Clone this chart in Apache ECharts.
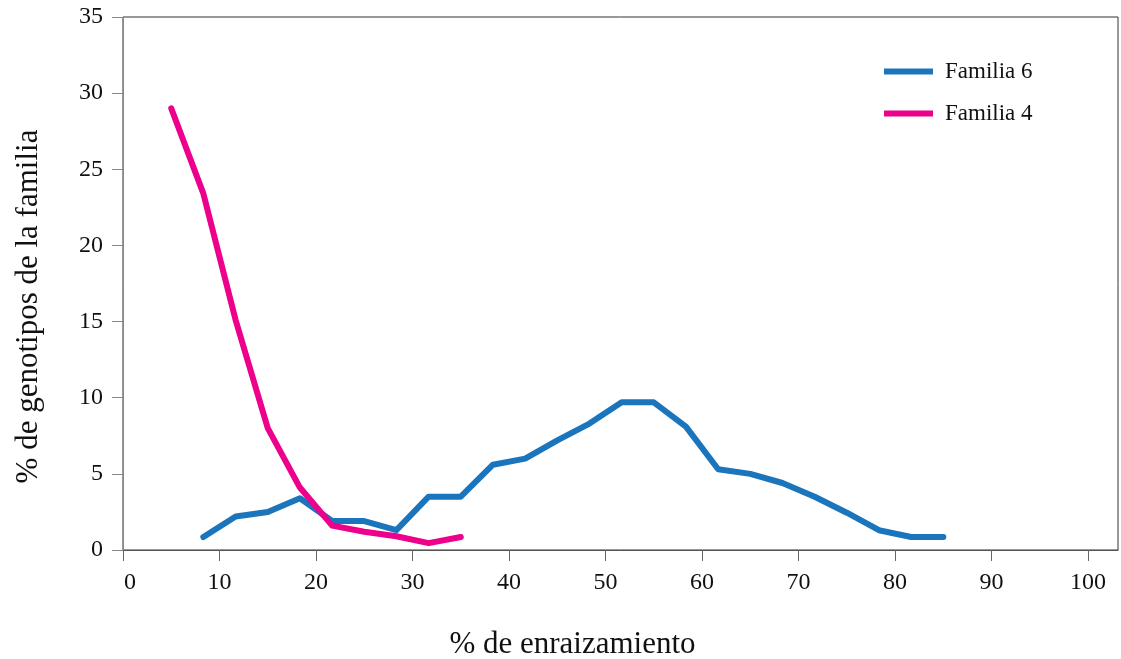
<!DOCTYPE html>
<html>
<head>
<meta charset="utf-8">
<script src="https://cdn.jsdelivr.net/npm/echarts@6/dist/echarts.min.js"></script>
<style>
html,body{margin:0;padding:0;background:#fff;}
#chart{width:1121px;height:659px;}
</style>
</head>
<body>
<div id="chart"></div>
<script>
// Data
const xTicks = [0, 10, 20, 30, 40, 50, 60, 70, 80, 90, 100];
const xF6 = [8.33, 11.67, 15, 18.33, 21.67, 25, 28.33, 31.67, 35, 38.33, 41.67, 45, 48.33, 51.67, 55, 58.33, 61.67, 65, 68.33, 71.67, 75, 78.33, 81.67, 85];
const yF6 = [0.85, 2.2, 2.5, 3.4, 1.9, 1.9, 1.3, 3.5, 3.5, 5.6, 6.0, 7.2, 8.3, 9.7, 9.7, 8.1, 5.3, 5.0, 4.4, 3.5, 2.45, 1.3, 0.85, 0.85];
const xF4 = [5, 8.33, 11.67, 15, 18.33, 21.67, 25, 28.33, 31.67, 35];
const yF4 = [29.0, 23.4, 15.1, 8.0, 4.1, 1.6, 1.2, 0.9, 0.45, 0.85];
const seriesNames = ['Familia 6', 'Familia 4'];

const pairs = (xs, ys) => xs.map((x, i) => [x, ys[i]]);
const font = '"Liberation Serif", "Times New Roman", serif';

const chart = echarts.init(document.getElementById('chart'), null, {renderer: 'canvas'});
chart.setOption({
  animation: false,
  backgroundColor: '#fff',
  grid: {
    left: 123, top: 17, right: 3, bottom: 109,
    outerBoundsMode: 'none', containLabel: false,
    show: true, borderColor: '#333', borderWidth: 1, backgroundColor: 'transparent'
  },
  legend: {
    left: 884, top: 60, orient: 'vertical', padding: 0,
    itemWidth: 49, itemHeight: 6, itemGap: 19,
    icon: 'rect',
    textStyle: {fontFamily: font, fontSize: 23, color: '#111', lineHeight: 23, padding: [0, 0, 0, 7]},
    data: seriesNames
  },
  xAxis: {
    type: 'value', min: 0, max: 103.1,
    name: '% de enraizamiento', nameLocation: 'middle', nameGap: 79,
    nameTextStyle: {fontFamily: font, fontSize: 31, color: '#111', padding: [0, 96, 0, 0]},
    axisLine: {show: true, lineStyle: {color: '#555', width: 1}},
    axisTick: {show: true, length: 11, lineStyle: {color: '#666'}, customValues: xTicks},
    axisLabel: {
      fontFamily: font, fontSize: 24, color: '#111', margin: 21, customValues: xTicks,
      formatter: v => v === 0 ? '{z|0}' : String(v),
      rich: {z: {fontFamily: font, fontSize: 24, color: '#111', padding: [0, 0, 0, 14]}}
    },
    splitLine: {show: false}
  },
  yAxis: {
    type: 'value', min: 0, max: 35, interval: 5,
    name: '% de genotipos de la familia', nameLocation: 'middle', nameGap: 79,
    nameTextStyle: {fontFamily: font, fontSize: 31, color: '#111', padding: [0, 46, 0, 0]},
    axisLine: {show: true, lineStyle: {color: '#888', width: 1}},
    axisTick: {show: true, length: 11, lineStyle: {color: '#888'}},
    axisLabel: {fontFamily: font, fontSize: 24, color: '#111', margin: 20},
    splitLine: {show: false}
  },
  series: [
    {
      name: seriesNames[0], type: 'line', data: pairs(xF6, yF6),
      showSymbol: false, symbol: 'none', color: '#1b75bc',
      lineStyle: {width: 6, cap: 'round', join: 'round', color: '#1b75bc'}
    },
    {
      name: seriesNames[1], type: 'line', data: pairs(xF4, yF4),
      showSymbol: false, symbol: 'none', color: '#ec008c',
      lineStyle: {width: 6, cap: 'round', join: 'round', color: '#ec008c'}
    }
  ]
});
</script>
</body>
</html>
